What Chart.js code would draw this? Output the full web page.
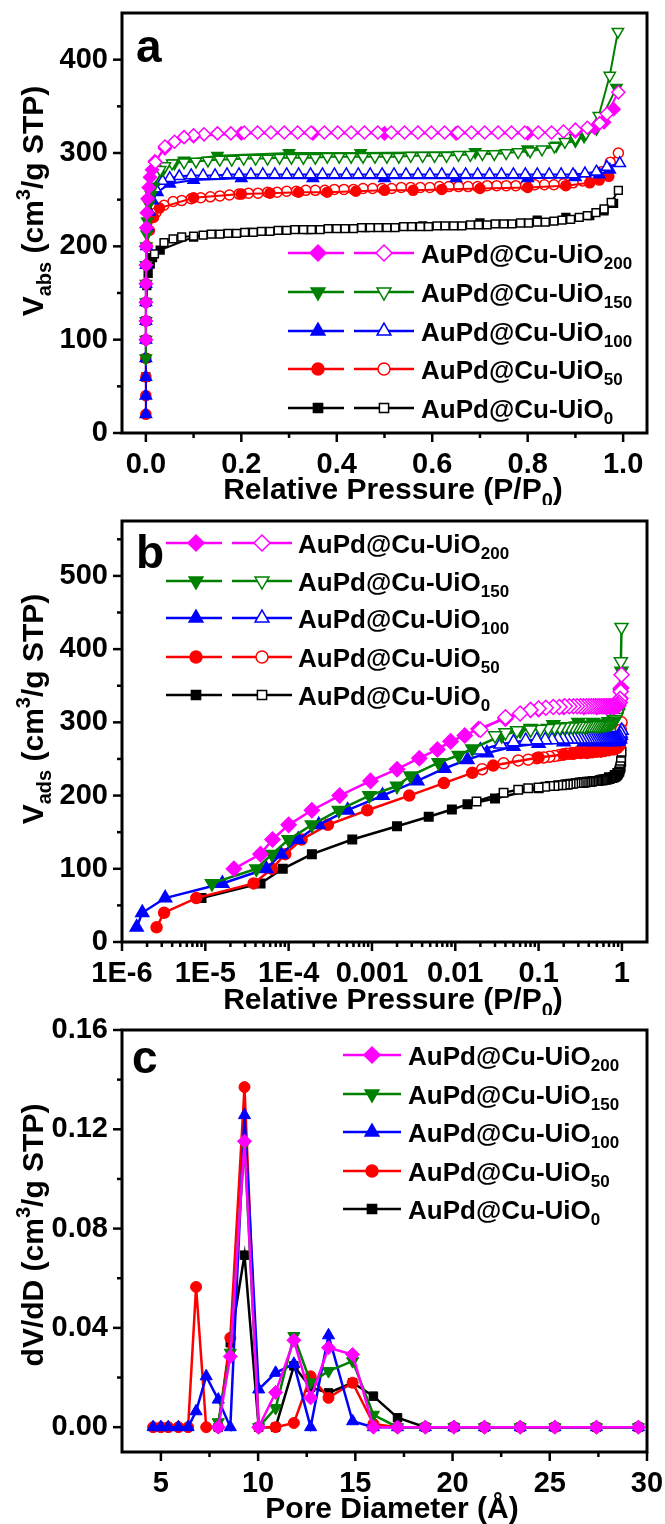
<!DOCTYPE html>
<html>
<head>
<meta charset="utf-8">
<script src="https://cdn.jsdelivr.net/npm/chart.js@4.4.1/dist/chart.umd.min.js"></script>
<style>
  body { margin: 0; background: #fff; }
  #wrap { position: relative; width: 665px; height: 1524px; }
  canvas { position: absolute; left: 0; }
</style>
</head>
<body>
<div id="wrap">
  <canvas id="chartA" width="665" height="505" style="top:0px"></canvas>
  <canvas id="chartB" width="665" height="510" style="top:505px"></canvas>
  <canvas id="chartC" width="665" height="509" style="top:1015px"></canvas>
</div>
<script>
const FONT = '"Liberation Sans", Arial, Helvetica, sans-serif';

// ---------- samples ----------
const sampleBase = "AuPd@Cu-UiO";
const sampleSubs = ["200", "150", "100", "50", "0"];
const sampleColors = ["#ff00ff", "#008000", "#0000ff", "#ff0000", "#000000"];
const sampleStyles = ["rectRot", "triangle", "triangle", "circle", "rect"];
const sampleRot = [0, 180, 0, 0, 0];

// ---------- isotherms (panel a + b share the same data) ----------
// adsorption = filled symbols, desorption = open symbols
const pinkAdsP = [2.2e-5, 4.6e-5, 6.4e-5, 1.0e-4, 1.9e-4, 4.1e-4, 9.6e-4, 0.002, 0.0037, 0.0061, 0.0088, 0.013, 0.019, 0.04, 0.1, 0.2, 0.35, 0.5, 0.65, 0.8, 0.9, 0.94, 0.96, 0.98];
const pinkAdsV = [100, 120, 140, 160, 180, 200, 220, 236, 251, 263, 274, 282, 291, 305, 318, 321, 321, 321, 321, 321, 323, 327, 333, 347];
const pinkDesP = [0.99, 0.966, 0.951, 0.925, 0.9, 0.875, 0.85, 0.822, 0.794, 0.766,
                  0.738, 0.71, 0.682, 0.654, 0.626, 0.598, 0.57, 0.542, 0.514, 0.486,
                  0.458, 0.43, 0.402, 0.374, 0.346, 0.318, 0.29, 0.262, 0.234, 0.206,
                  0.178, 0.15, 0.122, 0.1, 0.08, 0.06, 0.04, 0.02];
const pinkDesV = [365, 342, 332, 327, 325, 323, 322, 322, 322, 322,
                  322, 322, 322, 322, 322, 322, 322, 322, 322, 322,
                  322, 322, 322, 322, 322, 322, 322, 322, 322, 322,
                  321, 321, 320, 319, 317, 312, 307, 290];

const greenAdsP = [1.2e-5, 4.1e-5, 6.3e-5, 1.0e-4, 1.9e-4, 4.0e-4, 9.3e-4, 0.002, 0.0029, 0.0063, 0.011, 0.016, 0.036, 0.06, 0.08, 0.15, 0.3, 0.45, 0.69, 0.8, 0.86, 0.9, 0.918, 0.944, 0.986];
const greenAdsV = [80, 100, 120, 140, 160, 180, 200, 213, 227, 245, 255, 264, 282, 289, 292, 297, 300, 300, 301, 304, 308, 313, 318, 326, 370];
const greenDesP = [0.989, 0.972, 0.949, 0.922, 0.9, 0.878, 0.856, 0.83, 0.805, 0.78,
                   0.755, 0.73, 0.705, 0.68, 0.655, 0.63, 0.605, 0.58, 0.555, 0.53,
                   0.505, 0.48, 0.455, 0.43, 0.405, 0.38, 0.355, 0.33, 0.305, 0.28,
                   0.255, 0.23, 0.205, 0.18, 0.155, 0.13, 0.105, 0.08, 0.055, 0.04,
                   0.03];
const greenDesV = [430, 383, 340, 321, 316, 312, 307, 304, 302, 301,
                   300, 299, 299, 298, 298, 297, 297, 297, 297, 296,
                   296, 296, 296, 296, 296, 296, 295, 295, 295, 295,
                   294, 294, 294, 293, 293, 292, 291, 290, 289, 286,
                   282];

const blueAdsP = [1.5e-6, 1.75e-6, 3.3e-6, 1.6e-5, 5.4e-5, 8.1e-5, 1.3e-4, 2.3e-4, 5.1e-4, 0.00134, 0.0035, 0.0074, 0.014, 0.024, 0.05, 0.1, 0.2, 0.35, 0.5, 0.65, 0.8, 0.9, 0.95, 0.972];
const blueAdsV = [20, 40, 60, 80, 100, 120, 140, 160, 180, 200, 220, 237, 249, 258, 267, 271, 273, 273, 273, 273, 273, 274, 277, 282];
const blueDesP = [0.993, 0.966, 0.944, 0.92, 0.895, 0.87, 0.845, 0.82, 0.795, 0.77,
                  0.745, 0.72, 0.695, 0.67, 0.645, 0.62, 0.595, 0.57, 0.545, 0.52,
                  0.495, 0.47, 0.445, 0.42, 0.395, 0.37, 0.345, 0.32, 0.295, 0.27,
                  0.245, 0.22, 0.195, 0.17, 0.145, 0.12, 0.095, 0.07, 0.05, 0.035,
                  0.02];
const blueDesV = [289, 285, 280, 278, 277, 277, 277, 277, 277, 277,
                  277, 277, 277, 277, 277, 277, 277, 277, 277, 277,
                  277, 277, 277, 277, 277, 277, 277, 277, 277, 277,
                  277, 277, 277, 277, 276, 276, 276, 275, 273, 270,
                  262];

const redAdsP = [2.6e-6, 3.2e-6, 7.8e-6, 3.8e-5, 6.3e-5, 9.1e-5, 1.43e-4, 2.96e-4, 8.8e-4, 0.0028, 0.0073, 0.016, 0.0285, 0.1, 0.2, 0.26, 0.32, 0.38, 0.44, 0.5, 0.56, 0.62, 0.7, 0.8, 0.88, 0.93, 0.95, 0.97];
const redAdsV = [20, 40, 60, 80, 100, 120, 140, 160, 180, 200, 217, 231, 241, 252, 256, 257, 258, 258, 259, 260, 260, 261, 262, 263, 265, 268, 271, 275];
const redDesP = [0.99, 0.973, 0.955, 0.935, 0.915, 0.895, 0.875, 0.855, 0.835, 0.815,
                 0.795, 0.775, 0.755, 0.735, 0.715, 0.695, 0.675, 0.655, 0.635, 0.615,
                 0.595, 0.575, 0.555, 0.535, 0.515, 0.495, 0.475, 0.455, 0.435, 0.415,
                 0.395, 0.375, 0.355, 0.335, 0.315, 0.295, 0.275, 0.255, 0.235, 0.215,
                 0.195, 0.175, 0.155, 0.135, 0.115, 0.095, 0.075, 0.057, 0.038, 0.021];
const redDesV = [300, 290, 280, 274, 270, 268, 267, 266, 266, 266,
                 265, 265, 265, 265, 265, 264, 264, 264, 264, 264,
                 263, 263, 263, 263, 262, 262, 262, 262, 261, 261,
                 261, 260, 260, 260, 259, 259, 258, 258, 257, 257,
                 256, 255, 254, 253, 252, 251, 249, 248, 244, 236];

const blackAdsP = [9e-6, 4.6e-5, 8.5e-5, 1.9e-4, 5.8e-4, 0.002, 0.0048, 0.0091, 0.014, 0.03, 0.1, 0.22, 0.34, 0.46, 0.58, 0.7, 0.82, 0.88, 0.93, 0.96, 0.98];
const blackAdsV = [60, 80, 100, 120, 140, 158, 171, 181, 188, 196, 210, 215, 218, 220, 222, 225, 228, 231, 233, 238, 246];
const blackDesP = [0.99, 0.975, 0.96, 0.943, 0.925, 0.908, 0.89, 0.872, 0.855, 0.837,
                   0.82, 0.802, 0.785, 0.767, 0.75, 0.732, 0.715, 0.697, 0.68, 0.662,
                   0.645, 0.627, 0.61, 0.592, 0.575, 0.557, 0.54, 0.522, 0.505, 0.487,
                   0.47, 0.452, 0.435, 0.417, 0.4, 0.382, 0.365, 0.347, 0.33, 0.312,
                   0.295, 0.277, 0.26, 0.242, 0.225, 0.207, 0.19, 0.172, 0.155, 0.137,
                   0.12, 0.1, 0.075, 0.057, 0.038, 0.018];
const blackDesV = [260, 247, 240, 236, 233, 231, 229, 228, 227, 226,
                   226, 225, 225, 224, 224, 224, 223, 223, 223, 222,
                   222, 222, 222, 221, 221, 221, 221, 220, 220, 220,
                   220, 220, 219, 219, 219, 219, 218, 218, 218, 218,
                   217, 217, 216, 216, 215, 215, 214, 214, 213, 213,
                   212, 211, 210, 208, 204, 192];

// ---------- pore size distribution (panel c) ----------
const poreD = [4.6, 5.0, 5.38, 5.9, 6.4, 6.81, 7.33, 7.95, 8.57, 9.3, 10.03, 10.9, 11.84, 12.7, 13.62, 14.86, 15.93, 17.17, 18.6, 20.07, 21.64, 23.48, 25.26, 27.4, 29.56];
const psdPink  = [null, null, null, null, null, null, null, 0, 0.0285, 0.1152, 0, 0.014, 0.035, 0.0118, 0.032, 0.0293, 0, 0, 0, 0, 0, 0, 0, 0, 0];
const psdGreen = [null, null, null, null, null, null, null, 0.002, 0.030, 0.114, 0, 0.0077, 0.0367, 0.018, 0.0226, 0.0266, 0.005, 0, 0, 0, 0, 0, 0, 0, 0];
const psdBlue  = [0, 0, 0, 0, 0, 0.0064, 0.0205, 0.0111, 0, 0.1257, 0.0152, 0.0219, 0.0255, 0, 0.037, 0.0024, 0, 0, 0, 0, 0, 0, 0, 0, 0];
const psdRed   = [0, 0, 0, 0, 0, 0.0565, 0, 0, 0.036, 0.137, 0, 0, 0.0017, 0.0205, 0.0118, 0.0179, 0.0013, 0, 0, 0, 0, 0, 0, 0, 0];
const psdBlack = [null, null, null, null, null, null, null, 0, 0.034, 0.0693, 0, 0, 0.0247, 0.016, 0.0138, 0.0179, 0.0125, 0.0038, 0, 0, 0, 0, 0, 0, 0];

// ---------- ticks ----------
const aXTicks = [0, 0.2, 0.4, 0.6, 0.8, 1.0];
const aXLabels = ["0.0", "0.2", "0.4", "0.6", "0.8", "1.0"];
const aXMinor = [0.1, 0.3, 0.5, 0.7, 0.9];
const aYTicks = [0, 100, 200, 300, 400];
const aYLabels = ["0", "100", "200", "300", "400"];
const aYMinor = [50, 150, 250, 350];

const bXTicks = [1e-6, 1e-5, 1e-4, 0.001, 0.01, 0.1, 1];
const bXLabels = ["1E-6", "1E-5", "1E-4", "0.001", "0.01", "0.1", "1"];
const bYTicks = [0, 100, 200, 300, 400, 500];
const bYLabels = ["0", "100", "200", "300", "400", "500"];
const bYMinor = [50, 150, 250, 350, 450, 550];

const cXTicks = [5, 10, 15, 20, 25, 30];
const cXLabels = ["5", "10", "15", "20", "25", "30"];
const cXMinor = [7.5, 12.5, 17.5, 22.5, 27.5];
const cYTicks = [0, 0.04, 0.08, 0.12, 0.16];
const cYLabels = ["0.00", "0.04", "0.08", "0.12", "0.16"];
const cYMinor = [0.02, 0.06, 0.10, 0.14];

// log minor ticks 2..9 x 10^n
const bXMinor = [];
bXTicks.slice(0, -1).forEach(d => { for (let k = 2; k <= 9; k++) bXMinor.push(d * k); });

// ---------- helpers ----------
const segFont = (s, size) => `bold ${s.s ? Math.round(size * 0.65) : size}px ${FONT}`;

function richWidth(ctx, segs, size) {
  let w = 0;
  segs.forEach(s => { ctx.font = segFont(s, size); w += ctx.measureText(s.t).width; });
  return w;
}

function drawRich(ctx, segs, x, y, size, center) {
  let cx = center ? x - richWidth(ctx, segs, size) / 2 : x;
  ctx.textAlign = "left";
  ctx.textBaseline = "alphabetic";
  ctx.fillStyle = "#000";
  segs.forEach(s => {
    ctx.font = segFont(s, size);
    const dy = s.s === "sub" ? size * 0.25 : s.s === "sup" ? -size * 0.42 : 0;
    ctx.fillText(s.t, cx, y + dy);
    cx += ctx.measureText(s.t).width;
  });
}

const legendR = { rectRot: 8, triangle: 8, circle: 6, rect: 6.5 };

function marker(ctx, i, x, y, open) {
  ctx.fillStyle = open ? "#fff" : sampleColors[i];
  ctx.strokeStyle = sampleColors[i];
  ctx.lineWidth = 1.5;
  Chart.helpers.drawPoint(ctx, {
    pointStyle: sampleStyles[i], rotation: sampleRot[i],
    radius: legendR[sampleStyles[i]], borderWidth: 1.5
  }, x, y);
}

// frame, tick marks, titles, panel letter, legend
const decor = {
  id: "decor",
  afterDraw(chart, args, o) {
    const ctx = chart.ctx, ca = chart.chartArea;
    const xs = chart.scales.x, ys = chart.scales.y;
    ctx.save();
    ctx.strokeStyle = "#000";
    ctx.lineCap = "butt";

    ctx.lineWidth = 2.5;
    const tickX = (v, len) => {
      const p = xs.getPixelForValue(v);
      if (p < ca.left - 1 || p > ca.right + 1) return;
      ctx.beginPath(); ctx.moveTo(p, ca.bottom); ctx.lineTo(p, ca.bottom + len); ctx.stroke();
    };
    const tickY = (v, len) => {
      const p = ys.getPixelForValue(v);
      if (p < ca.top - 1 || p > ca.bottom + 1) return;
      ctx.beginPath(); ctx.moveTo(ca.left, p); ctx.lineTo(ca.left - len, p); ctx.stroke();
    };
    o.xMajor.forEach(v => tickX(v, 9));
    o.xMinor.forEach(v => tickX(v, 5));
    o.yMajor.forEach(v => tickY(v, 9));
    o.yMinor.forEach(v => tickY(v, 5));

    ctx.lineWidth = 3;
    ctx.strokeRect(ca.left, ca.top, ca.right - ca.left, ca.bottom - ca.top);

    // axis titles
    drawRich(ctx, o.xTitle, o.xTitlePos[0], o.xTitlePos[1], 30, true);
    ctx.save();
    ctx.translate(o.yTitlePos[0], o.yTitlePos[1]);
    ctx.rotate(-Math.PI / 2);
    drawRich(ctx, o.yTitle, 0, 11, 30, true);
    ctx.restore();

    // panel letter
    ctx.font = `bold 46px ${FONT}`;
    ctx.fillStyle = "#000";
    ctx.textAlign = "left";
    ctx.textBaseline = "alphabetic";
    ctx.fillText(o.letter, o.letterPos[0], o.letterPos[1]);

    // legend
    const L = o.legend;
    L.rows.forEach((y, i) => {
      ctx.strokeStyle = sampleColors[i];
      ctx.lineWidth = 2.5;
      L.segs.forEach(sg => {
        ctx.beginPath(); ctx.moveTo(sg[0], y); ctx.lineTo(sg[1], y); ctx.stroke();
      });
      marker(ctx, i, L.marks[0], y, false);
      if (L.marks.length > 1) marker(ctx, i, L.marks[1], y, true);
      drawRich(ctx, [{ t: sampleBase }, { t: sampleSubs[i], s: "sub" }], L.textX, y + 9.5, 26, false);
    });
    ctx.restore();
  }
};

const tickFont = { family: FONT, size: 29, weight: "bold" };

function axis(type, min, max, ticks, labels, fit, horizontal) {
  return {
    type: type, min: min, max: max,
    afterBuildTicks: s => { s.ticks = ticks.map(v => ({ value: v })); },
    afterFit: s => {
      if (horizontal) s.height = fit; else s.width = fit;
      s.paddingTop = 0; s.paddingBottom = 0; s.paddingLeft = 0; s.paddingRight = 0;
    },
    ticks: {
      callback: (v, i) => labels[i],
      font: tickFont, color: "#000",
      padding: horizontal ? 15 : 14,
      autoSkip: false, maxRotation: 0, minRotation: 0
    },
    grid: { display: false, drawTicks: false },
    border: { display: false }
  };
}

function pts(xArr, yArr) {
  return xArr.map((x, i) => ({ x: x, y: yArr[i] }));
}

function isoDatasets(radii, lw) {
  const sets = [
    [pinkAdsP, pinkAdsV, pinkDesP, pinkDesV, false],
    [greenAdsP, greenAdsV, greenDesP, greenDesV, false],
    [blueAdsP, blueAdsV, blueDesP, blueDesV, false],
    [redAdsP, redAdsV, redDesP, redDesV, true],
    [blackAdsP, blackAdsV, blackDesP, blackDesV, false]
  ];
  const out = [];
  sets.forEach((s, i) => {
    const base = {
      showLine: true, borderColor: sampleColors[i], borderWidth: lw,
      pointStyle: sampleStyles[i], pointRotation: sampleRot[i],
      pointRadius: radii[sampleStyles[i]], pointHoverRadius: radii[sampleStyles[i]],
      pointBorderColor: sampleColors[i], tension: 0, clip: false
    };
    const ads = Object.assign({}, base, {
      label: sampleBase + sampleSubs[i] + " ads", data: pts(s[0], s[1]),
      pointBackgroundColor: sampleColors[i], pointBorderWidth: 1.5
    });
    const des = Object.assign({}, base, {
      label: sampleBase + sampleSubs[i] + " des", data: pts(s[2], s[3]),
      pointBackgroundColor: "#fff", pointBorderWidth: 1.5
    });
    if (s[4]) out.push(ads, des); else out.push(des, ads);
  });
  return out;
}

function makeChart(id, datasets, scales, pad, decorOpts) {
  return new Chart(document.getElementById(id), {
    type: "scatter",
    data: { datasets: datasets },
    options: {
      responsive: false, animation: false, devicePixelRatio: 1,
      layout: { padding: { top: pad.top, right: 18, left: 0, bottom: 0 } },
      scales: scales,
      plugins: { legend: { display: false }, tooltip: { enabled: false }, decor: decorOpts }
    },
    plugins: [decor]
  });
}

const yTitleTail = [{ t: " (cm" }, { t: "3", s: "sup" }, { t: "/g STP)" }];
const pressTitle = [{ t: "Relative Pressure (P/P" }, { t: "0", s: "sub" }, { t: ")" }];

// ---------- panel a ----------
makeChart("chartA",
  isoDatasets({ rectRot: 6.5, triangle: 6.5, circle: 5, rect: 5.5 }, 2),
  {
    x: axis("linear", -0.05, 1.05, aXTicks, aXLabels, 72, true),
    y: axis("linear", 0, 450, aYTicks, aYLabels, 122, false)
  },
  { top: 13 },
  {
    xMajor: aXTicks, xMinor: aXMinor, yMajor: aYTicks, yMinor: aYMinor,
    xTitle: pressTitle, xTitlePos: [393, 499],
    yTitle: [{ t: "V" }, { t: "abs", s: "sub" }].concat(yTitleTail), yTitlePos: [32, 201],
    letter: "a", letterPos: [136, 62],
    legend: { rows: [253, 292, 331, 369, 408], segs: [[288, 344], [354, 414]], marks: [318, 384], textX: 421 }
  });

// ---------- panel b ----------
makeChart("chartB",
  isoDatasets({ rectRot: 7.5, triangle: 7.5, circle: 5.5, rect: 6 }, 2.5),
  {
    x: axis("logarithmic", 1e-6, 2, bXTicks, bXLabels, 73, true),
    y: axis("linear", 0, 575, bYTicks, bYLabels, 122, false)
  },
  { top: 16 },
  {
    xMajor: bXTicks, xMinor: bXMinor, yMajor: bYTicks, yMinor: bYMinor,
    xTitle: pressTitle, xTitlePos: [393, 504],
    yTitle: [{ t: "V" }, { t: "ads", s: "sub" }].concat(yTitleTail), yTitlePos: [32, 204],
    letter: "b", letterPos: [136, 63],
    legend: { rows: [38, 76, 113, 152, 190], segs: [[166, 222], [232, 292]], marks: [196, 262], textX: 298 }
  });

// ---------- panel c ----------
const psdSeries = [psdPink, psdGreen, psdBlue, psdRed, psdBlack];
const psdRadii = { rectRot: 7, triangle: 7, circle: 5.5, rect: 6 };
makeChart("chartC",
  psdSeries.map((vals, i) => ({
    label: sampleBase + sampleSubs[i],
    data: pts(poreD, vals),
    showLine: true, borderColor: sampleColors[i], borderWidth: 2.5,
    pointStyle: sampleStyles[i], pointRotation: sampleRot[i],
    pointRadius: psdRadii[sampleStyles[i]], pointHoverRadius: psdRadii[sampleStyles[i]],
    pointBackgroundColor: sampleColors[i], pointBorderColor: sampleColors[i], pointBorderWidth: 1,
    tension: 0, clip: false
  })),
  {
    x: axis("linear", 3, 30, cXTicks, cXLabels, 72, true),
    y: axis("linear", -0.01, 0.16, cYTicks, cYLabels, 122, false)
  },
  { top: 15 },
  {
    xMajor: cXTicks, xMinor: cXMinor, yMajor: cYTicks, yMinor: cYMinor,
    xTitle: [{ t: "Pore Diameter (\u00C5)" }], xTitlePos: [392, 503],
    yTitle: [{ t: "dV/dD" }].concat(yTitleTail), yTitlePos: [32, 220],
    letter: "c", letterPos: [132, 58],
    legend: { rows: [40, 79, 117, 156, 194], segs: [[343, 401]], marks: [372], textX: 408 }
  });
</script>
</body>
</html>
